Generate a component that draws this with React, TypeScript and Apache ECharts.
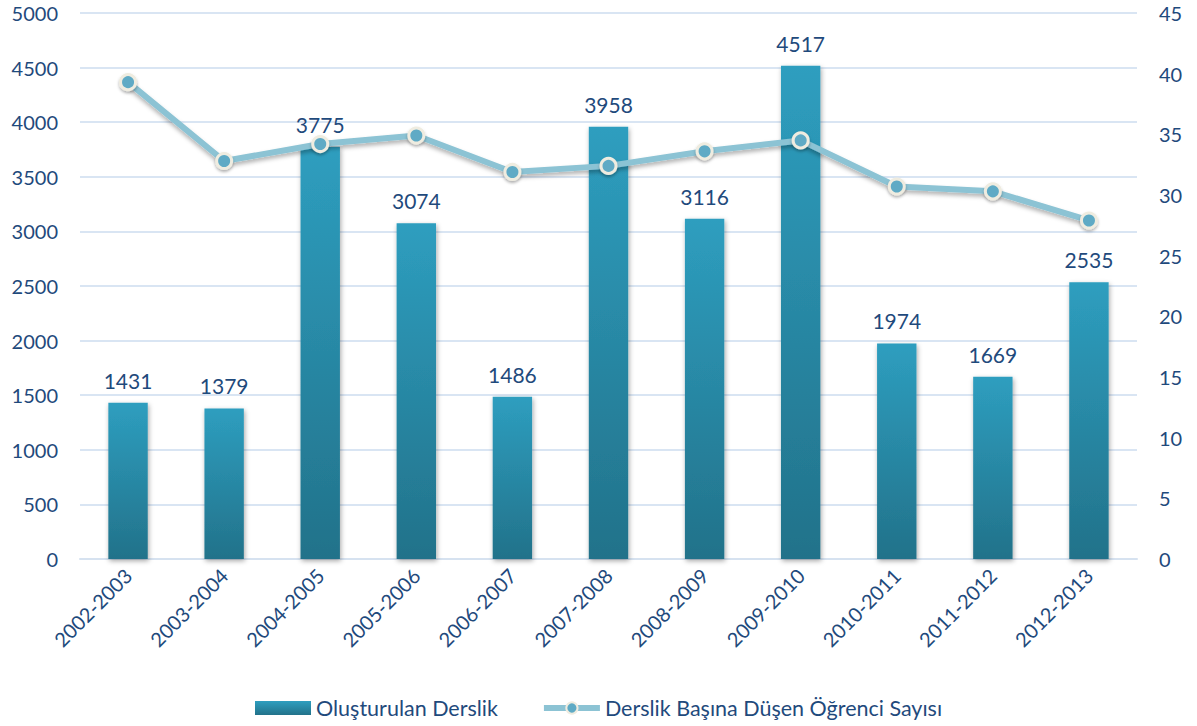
import React, { useEffect, useRef } from "react";
import * as echarts from "echarts";

const categories = ["2002-2003", "2003-2004", "2004-2005", "2005-2006", "2006-2007", "2007-2008", "2008-2009", "2009-2010", "2010-2011", "2011-2012", "2012-2013"];
const derslik = [1431, 1379, 3775, 3074, 1486, 3958, 3116, 4517, 1974, 1669, 2535];
const ogrenci = [39.3, 32.8, 34.2, 34.9, 31.9, 32.4, 33.6, 34.5, 30.7, 30.3, 27.9];
const barName = "Oluşturulan Derslik";
const lineName = "Derslik Başına Düşen Öğrenci Sayısı";

const TEXT = "#1f4a7c";
const FONT = "Lato";

export default function App() {
  const ref = useRef<HTMLDivElement>(null);
  useEffect(() => {
    if (!ref.current) return;
    const chart = echarts.init(ref.current, undefined, { renderer: "svg" });
    chart.setOption({
      animation: false,
      backgroundColor: "#ffffff",
      textStyle: { fontFamily: FONT, color: TEXT },
      grid: { left: 80, right: 60, top: 13, bottom: 167, containLabel: false },
      legend: {
        top: 692,
        left: 250,
        itemGap: 43,
        itemWidth: 56,
        itemHeight: 14,
        lineStyle: { width: 6, color: "#8cc3d4" },
        textStyle: { fontFamily: FONT, fontSize: 21.5, color: TEXT },
        data: [
          { name: barName, icon: "rect" },
          { name: lineName },
        ],
      },
      xAxis: {
        type: "category",
        data: categories,
        axisLine: { show: true, lineStyle: { color: "#d6e2f0", width: 2 } },
        axisTick: { show: false },
        axisLabel: { rotate: 45, fontSize: 20, color: TEXT, fontFamily: FONT, margin: 13, interval: 0 },
      },
      yAxis: [
        {
          type: "value",
          min: 0,
          max: 5000,
          interval: 500,
          axisLine: { show: false },
          axisTick: { show: false },
          splitLine: { lineStyle: { color: "#d9e5f3", width: 2 } },
          axisLabel: { fontSize: 20, color: TEXT, fontFamily: FONT, margin: 22, formatter: (v: number) => String(v) },
        },
        {
          type: "value",
          min: 0,
          max: 45,
          interval: 5,
          axisLine: { show: false },
          axisTick: { show: false },
          splitLine: { show: false },
          axisLabel: { fontSize: 20, color: TEXT, fontFamily: FONT, margin: 22, formatter: (v: number) => String(v) },
        },
      ],
      series: [
        {
          name: barName,
          type: "bar",
          data: derslik,
          yAxisIndex: 0,
          barWidth: "41%",
          itemStyle: {
            color: new echarts.graphic.LinearGradient(0, 0, 0, 1, [
              { offset: 0, color: "#2e9ebf" },
              { offset: 1, color: "#22728a" },
            ]),
            shadowColor: "rgba(0,0,0,0.35)",
            shadowBlur: 5,
            shadowOffsetX: 1,
            shadowOffsetY: 2,
          },
          label: {
            show: true,
            position: "top",
            distance: 12,
            fontSize: 21,
            color: TEXT,
            fontFamily: FONT,
          },
          z: 2,
        },
        {
          name: lineName,
          type: "line",
          data: ogrenci,
          yAxisIndex: 1,
          symbol: "circle",
          symbolSize: 15,
          lineStyle: {
            color: "#8cc3d4",
            width: 6,
            shadowColor: "rgba(0,0,0,0.3)",
            shadowBlur: 4,
            shadowOffsetY: 3,
          },
          itemStyle: {
            color: "#5eaac5",
            borderColor: "#efece0",
            borderWidth: 3,
            shadowColor: "rgba(0,0,0,0.3)",
            shadowBlur: 3,
            shadowOffsetY: 2,
          },
          z: 3,
        },
      ],
    });
    return () => chart.dispose();
  }, []);
  return <div ref={ref} style={{ position: "absolute", left: 0, top: 0, width: 1197, height: 726 }} />;
}
